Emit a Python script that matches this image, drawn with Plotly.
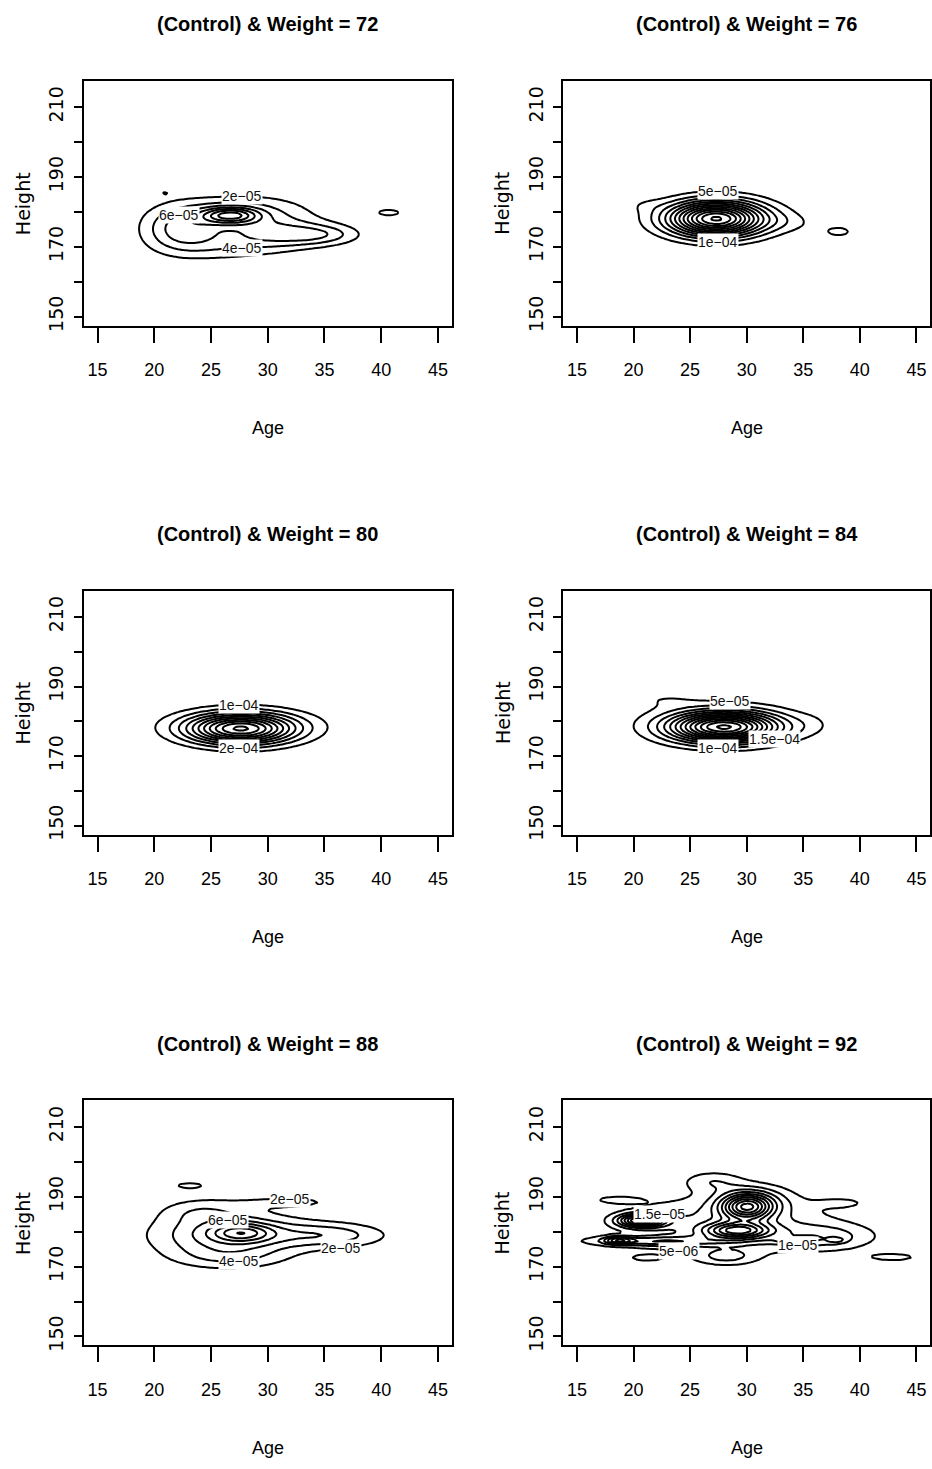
import numpy as np
import plotly.graph_objects as go

# Panels: one per weight slice
weights = [72, 76, 80, 84, 88, 92]
level_step = [2e-5, 5e-5, 1e-4, 5e-5, 2e-5, 5e-6]

# Density bumps per slice: (age, height, sd_age, sd_height, peak density)
bumps_72 = [
    (22.3, 175.0, 2.3, 4.5, 6.0e-5),
    (31.5, 173.5, 3.0, 2.8, 4.7e-5),
    (35.0, 173.5, 2.3, 2.0, 3.5e-5),
    (28.0, 179.2, 4.0, 3.8, 5.0e-5),
    (26.7, 179.0, 1.7, 1.6, 1.0e-4),
    (26.5, 170.5, 3.5, 3.2, 3.0e-5),
    (20.9, 185.5, 0.6, 0.9, 1.5e-5),
    (40.7, 179.8, 1.5, 1.4, 2.3e-5),
]
bumps_76 = [
    (27.3, 178.0, 2.8, 3.4, 6.0e-4),
    (27.5, 178.5, 4.5, 4.0, 6.0e-5),
    (33.5, 177.0, 1.8, 2.0, 3.0e-5),
    (21.0, 182.0, 1.2, 1.5, 2.5e-5),
    (38.2, 174.3, 1.6, 2.0, 5.4e-5),
]
bumps_80 = [
    (27.6, 177.8, 3.2, 3.0, 1.0e-3),
    (28.0, 179.0, 5.0, 3.5, 1.3e-4),
]
bumps_84 = [
    (28.0, 178.3, 3.3, 3.0, 6.2e-4),
    (27.5, 180.0, 5.5, 4.5, 4.5e-5),
    (35.8, 179.0, 1.5, 2.5, 2.5e-5),
    (22.5, 186.5, 2.5, 1.8, 3.5e-5),
]
bumps_88 = [
    (27.7, 179.7, 1.8, 1.8, 7.0e-5),
    (26.5, 179.0, 4.5, 4.5, 7.0e-5),
    (35.5, 179.0, 3.5, 2.5, 4.8e-5),
    (24.0, 186.0, 2.5, 2.5, 2.5e-5),
    (26.5, 172.5, 3.5, 2.5, 2.5e-5),
    (32.0, 188.5, 3.5, 1.3, 2.3e-5),
    (23.1, 193.3, 2.5, 1.7, 2.1e-5),
]
bumps_92 = [
    (28.5, 182.0, 6.5, 6.0, 1.2e-5),
    (22.0, 177.3, 4.0, 1.0, 1.5e-5),
    (30.0, 187.0, 1.5, 2.5, 3.5e-5),
    (30.5, 189.0, 2.2, 3.0, 1.2e-5),
    (29.2, 180.3, 2.0, 1.6, 3.2e-5),
    (20.8, 183.2, 1.4, 1.3, 4.0e-5),
    (18.7, 177.5, 0.8, 0.7, 2.0e-5),
    (27.0, 194.5, 1.8, 2.0, 8.0e-6),
    (37.0, 178.5, 3.0, 2.5, 1.0e-5),
    (34.2, 177.5, 1.2, 0.6, 8.0e-6),
    (37.9, 177.6, 0.5, 0.5, 8.0e-6),
    (18.3, 189.2, 2.1, 1.2, 4.5e-6),
    (38.5, 188.3, 1.8, 1.2, 4.5e-6),
    (43.0, 172.7, 2.3, 1.2, 6.0e-6),
    (21.1, 172.5, 1.4, 0.9, 5.0e-6),
    (28.2, 172.8, 1.8, 1.6, 9.0e-6),
]
panel_bumps = [bumps_72, bumps_76, bumps_80, bumps_84, bumps_88, bumps_92]

# Contour labels: (age, level number, side of the contour)
labels_72 = [(27.7, 1, "top"), (27.7, 2, "bottom"), (22.2, 3, "top")]
labels_76 = [(27.5, 1, "top"), (27.5, 2, "bottom")]
labels_80 = [(27.5, 1, "top"), (27.5, 2, "bottom")]
labels_84 = [(28.5, 1, "top"), (27.5, 2, "bottom"), (32.5, 3, "bottom")]
labels_88 = [(32.0, 1, "top"), (27.5, 2, "bottom"), (26.5, 3, "top"), (36.5, 1, "bottom")]
labels_92 = [(24.0, 1, "bottom"), (34.5, 2, "bottom"), (22.3, 3, "top")]
panel_labels = [labels_72, labels_76, labels_80, labels_84, labels_88, labels_92]

x_ticks = [15, 20, 25, 30, 35, 40, 45]
y_ticks = [150, 160, 170, 180, 190, 200, 210]
y_ticktext = ["150", "", "170", "", "190", "", "210"]

AGE_RANGE = [13.8, 46.2]
HEIGHT_RANGE = [147.4, 217.6]

ages = np.linspace(AGE_RANGE[0], AGE_RANGE[1], 91)
heights = np.linspace(HEIGHT_RANGE[0], HEIGHT_RANGE[1], 121)
AA, HH = np.meshgrid(ages, heights)


def density(bumps):
    z = np.zeros_like(AA)
    for a0, h0, sa, sh, p in bumps:
        z += p * np.exp(-0.5 * (((AA - a0) / sa) ** 2 + ((HH - h0) / sh) ** 2))
    return z


def crossing(z, age, level, side):
    j = int(np.argmin(np.abs(ages - age)))
    col = z[:, j]
    idx = np.where((col[:-1] - level) * (col[1:] - level) < 0)[0]
    if len(idx) == 0:
        return None
    i = idx.max() if side == "top" else idx.min()
    t = (level - col[i]) / (col[i + 1] - col[i])
    return heights[i] + t * (heights[i + 1] - heights[i])


def level_text(v):
    m, e = f"{v:.1e}".split("e")
    m = m.rstrip("0").rstrip(".")
    return f"{m}e{e}".replace("-", "\u2212")


NARROW = "Liberation Sans, Arial, sans-serif"
WIDE = "DejaVu Sans, Arial, sans-serif"

W, H = 932, 1469
col_x = [(84, 452), (564, 931)]
row_y = [(81, 327), (593, 838), (1105, 1351)]

fig = go.Figure()
annotations = []

for k, (wt, step, bumps, labs) in enumerate(zip(weights, level_step, panel_bumps, panel_labels)):
    r, c = divmod(k, 2)
    n = k + 1
    xs = "" if n == 1 else str(n)
    z = density(bumps)
    nlev = int(np.floor(z.max() / step))
    fig.add_trace(go.Contour(
        x=ages, y=heights, z=z,
        xaxis=f"x{xs}", yaxis=f"y{xs}",
        autocontour=False,
        contours=dict(start=step, end=step * nlev, size=step,
                      coloring="lines", showlabels=False),
        colorscale=[[0, "black"], [1, "black"]],
        showscale=False,
        line=dict(width=2, smoothing=0.8),
        hoverinfo="skip",
    ))

    x0, x1 = col_x[c]
    y0, y1 = row_y[r]
    pw, ph = x1 - x0, y1 - y0
    xdom = [x0 / W, x1 / W]
    ydom = [1 - y1 / H, 1 - y0 / H]
    fig.update_layout(**{
        f"xaxis{xs}": dict(
            domain=xdom, range=AGE_RANGE, anchor=f"y{xs}",
            tickmode="array", tickvals=x_ticks, ticktext=[str(v) for v in x_ticks],
            ticks="outside", ticklen=15, tickwidth=2, tickcolor="black",
            ticklabelstandoff=12,
            showline=True, mirror=True, linecolor="black", linewidth=2,
            showgrid=False, zeroline=False,
            tickfont=dict(family=NARROW, size=18, color="black"),
        ),
        f"yaxis{xs}": dict(
            domain=ydom, range=HEIGHT_RANGE, anchor=f"x{xs}",
            tickmode="array", tickvals=y_ticks, ticktext=y_ticktext,
            ticks="outside", ticklen=8, tickwidth=2, tickcolor="black",
            tickangle=-90, ticklabelstandoff=3,
            showline=True, mirror=True, linecolor="black", linewidth=2,
            showgrid=False, zeroline=False,
            tickfont=dict(family=WIDE, size=19, color="black"),
        ),
    })

    annotations.append(dict(
        text=f"<b>(Control) &amp; Weight = {wt}</b>",
        xref=f"x{xs} domain", yref=f"y{xs} domain",
        x=0.5, y=1 + 57 / ph, xanchor="center", yanchor="middle",
        showarrow=False, font=dict(family=NARROW, size=20, color="black"),
    ))
    annotations.append(dict(
        text="Age", xref=f"x{xs} domain", yref=f"y{xs} domain",
        x=0.5, y=-103 / ph, xanchor="center", yanchor="middle",
        showarrow=False, font=dict(family=NARROW, size=18, color="black"),
    ))
    annotations.append(dict(
        text="Height", xref=f"x{xs} domain", yref=f"y{xs} domain",
        x=-61 / pw, y=0.5, xanchor="center", yanchor="middle", textangle=-90,
        showarrow=False, font=dict(family=WIDE, size=19, color="black"),
    ))

    for age, li, side in labs:
        lvl = step * li
        h = crossing(z, age, lvl, side)
        if h is None:
            continue
        annotations.append(dict(
            text=level_text(lvl), x=age, y=h, xref=f"x{xs}", yref=f"y{xs}",
            xanchor="center", yanchor="middle", showarrow=False,
            bgcolor="white", borderpad=0,
            font=dict(family=NARROW, size=14, color="#111"),
        ))

fig.update_layout(
    width=W, height=H,
    margin=dict(l=0, r=0, t=0, b=0),
    paper_bgcolor="white", plot_bgcolor="white",
    showlegend=False,
    annotations=annotations,
)

fig.write_html("out.html")
